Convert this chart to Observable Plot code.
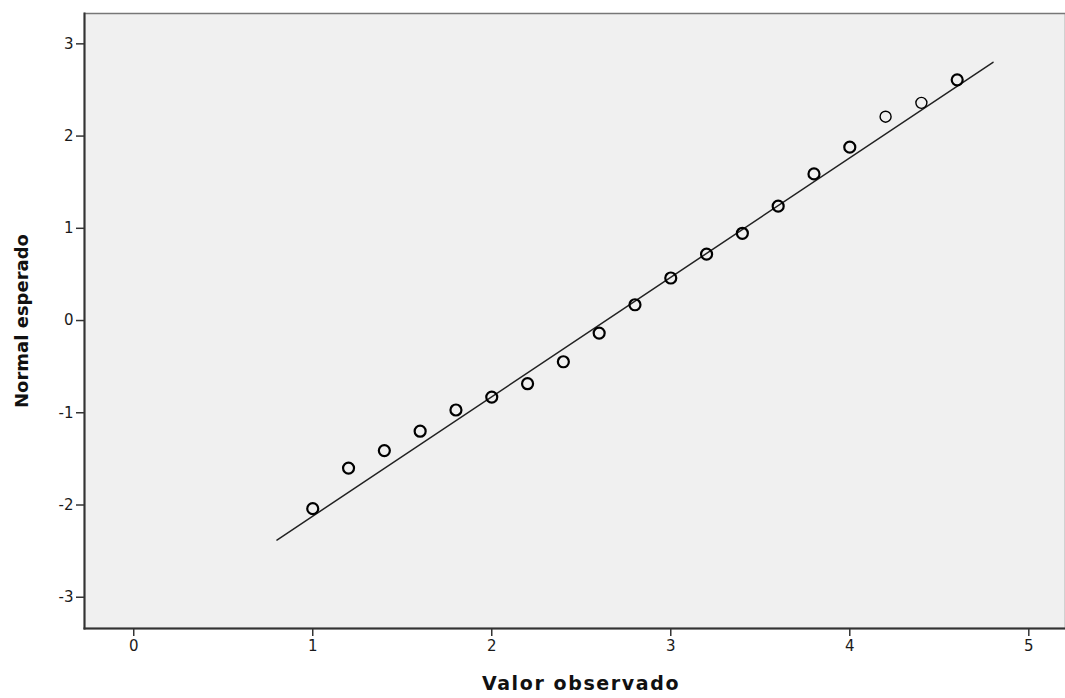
<!DOCTYPE html>
<html>
<head>
<meta charset="utf-8">
<script src="https://cdn.jsdelivr.net/npm/d3@7"></script>
<script src="https://cdn.jsdelivr.net/npm/@observablehq/plot@0.6"></script>
<style>
  html, body { margin: 0; padding: 0; background: #fff; }
  g[aria-label="x-axis tick label"], g[aria-label="y-axis tick label"] { font-size: 15px; fill: #1a1a1a; font-family: 'DejaVu Sans', Verdana, sans-serif; }
</style>
</head>
<body>
<div id="chart"></div>
<script>
// Observed values (x) and expected normal values (y)
const observed = [1.0, 1.2, 1.4, 1.6, 1.8, 2.0, 2.2, 2.4, 2.6, 2.8, 3.0, 3.2, 3.4, 3.6, 3.8, 4.0, 4.2, 4.4, 4.6];
const expected = [-2.04, -1.60, -1.41, -1.20, -0.97, -0.83, -0.685, -0.447, -0.136, 0.171, 0.461, 0.72, 0.946, 1.24, 1.59, 1.88, 2.21, 2.36, 2.61];
// Reference line endpoints
const lineX = [0.8, 4.8];
const lineY = [-2.38, 2.80];
const xTicks = [0, 1, 2, 3, 4, 5];
const yTicks = [-3, -2, -1, 0, 1, 2, 3];
const xLabel = "Valor observado";
const yLabel = "Normal esperado";

const points = observed.map((x, i) => ({x, y: expected[i], light: x === 4.2 || x === 4.4}));
const fitLine = lineX.map((x, i) => ({x, y: lineY[i]}));

const chart = Plot.plot({
  width: 1065,
  height: 698,
  marginLeft: 84,
  marginRight: 0,
  marginTop: 13,
  marginBottom: 70,
  style: {fontFamily: "'DejaVu Sans', Verdana, sans-serif", fontSize: "15px", color: "#1a1a1a", background: "#fff"},
  x: {domain: [-0.275, 5.205]},
  y: {domain: [-3.339, 3.329]},
  marks: [
    Plot.frame({fill: "#f0f0f0", stroke: "#777", strokeWidth: 1.5}),
    Plot.frame({anchor: "left", stroke: "#333", strokeWidth: 2}),
    Plot.frame({anchor: "bottom", stroke: "#333", strokeWidth: 2}),
    Plot.axisX({ticks: xTicks, tickSize: 8, tickPadding: 4, tickFormat: d => String(d), label: null, stroke: "#333", strokeWidth: 1.5, fontSize: 15}),
    Plot.axisY({ticks: yTicks, tickSize: 8, tickPadding: 3, tickFormat: d => String(d), label: null, stroke: "#333", strokeWidth: 1.5, fontSize: 15}),
    Plot.line(fitLine, {x: "x", y: "y", stroke: "#222", strokeWidth: 1.5}),
    Plot.dot(points, {x: "x", y: "y", r: 5.5, fill: "none", stroke: "#000", strokeWidth: d => d.light ? 1.4 : 2.2}),
    Plot.text([xLabel], {frameAnchor: "bottom", dx: 6, dy: 55, fontSize: 19, fontWeight: "bold", fontFamily: "'DejaVu Sans', Verdana, sans-serif", fill: "#111", lineAnchor: "middle", textAnchor: "middle"}),
    Plot.text([yLabel], {frameAnchor: "left", dx: -62, rotate: -90, fontSize: 18, fontWeight: "bold", fontFamily: "'DejaVu Sans', Verdana, sans-serif", fill: "#111", textAnchor: "middle", lineAnchor: "middle"})
  ]
});
// slight horizontal letter spacing to match the wide x-axis title
chart.querySelectorAll("text").forEach(t => { if (t.textContent === xLabel) t.setAttribute("letter-spacing", "1.6"); });
document.getElementById("chart").appendChild(chart);
</script>
</body>
</html>
